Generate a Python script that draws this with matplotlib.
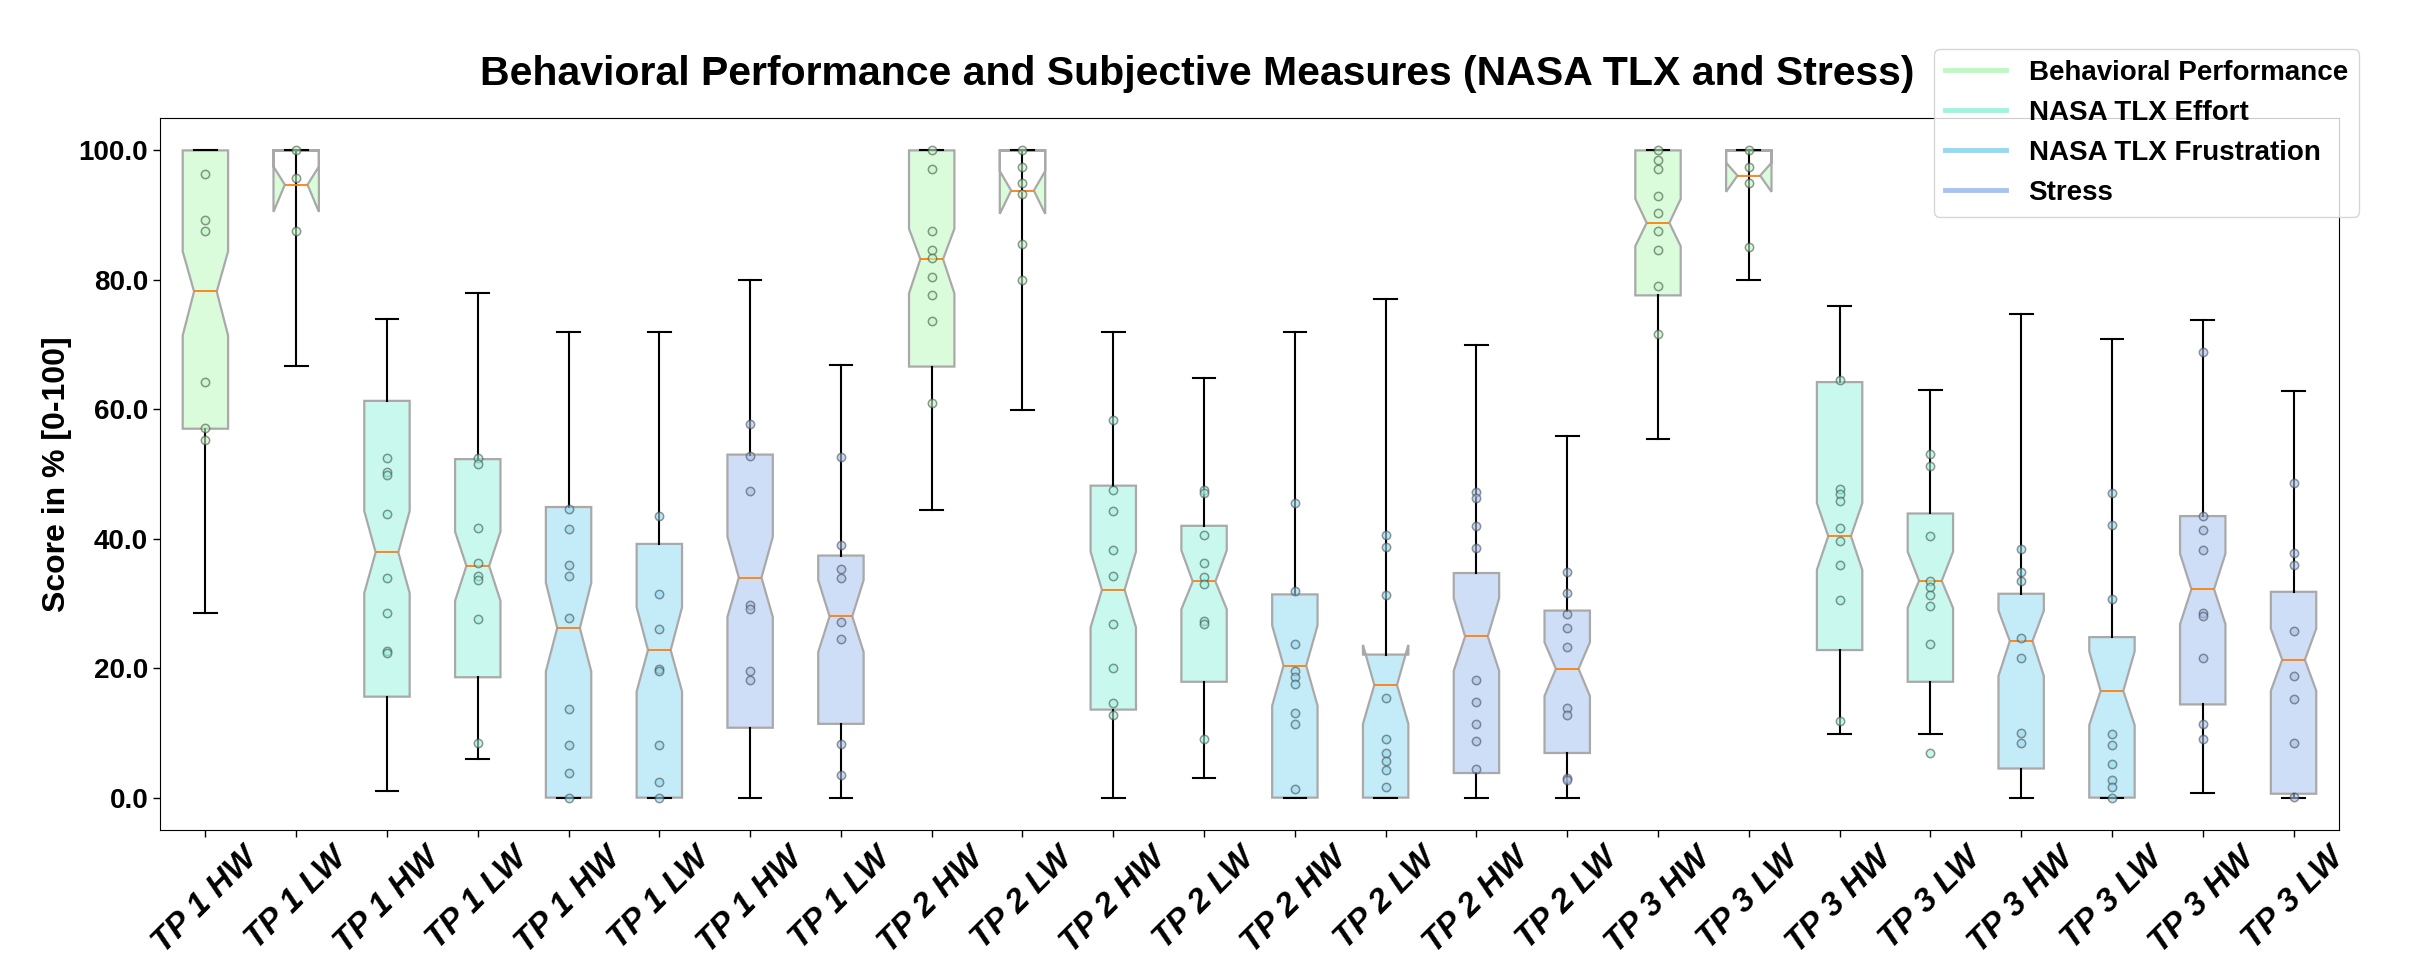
import numpy as np
import matplotlib
matplotlib.use('Agg')
import matplotlib.pyplot as plt
from matplotlib.lines import Line2D
from matplotlib.ticker import FormatStrFormatter

plt.rcParams['font.family'] = ['Liberation Sans', 'DejaVu Sans']

# labels of the 24 boxes (4 measures x 3 time points x HW/LW)
labels = (["TP 1 HW", "TP 1 LW"] * 4 + ["TP 2 HW", "TP 2 LW"] * 4
          + ["TP 3 HW", "TP 3 LW"] * 4)
measure = [0, 0, 1, 1, 2, 2, 3, 3] * 3

measure_names = ["Behavioral Performance", "NASA TLX Effort",
                 "NASA TLX Frustration", "Stress"]
measure_colors = ['#bcfabf', '#9df5e0', '#93dbf3', '#a7c3f0']

# box statistics
q1 = [57.0, 100, 15.6, 18.6, 0, 0, 10.8, 11.4,
      66.6, 100, 13.6, 17.9, 0, 0, 3.8, 6.9,
      77.6, 100, 22.8, 17.9, 4.5, 0, 14.4, 0.6]
med = [78.2, 94.7, 37.9, 35.8, 26.2, 22.8, 34.0, 28.0,
       83.2, 93.8, 32.1, 33.4, 20.4, 17.4, 24.9, 19.9,
       88.8, 96.1, 40.4, 33.5, 24.2, 16.5, 32.2, 21.3]
q3 = [100, 100, 61.3, 52.3, 44.9, 39.2, 53.0, 37.4,
      100, 100, 48.2, 42.0, 31.4, 22.1, 34.7, 28.9,
      100, 100, 64.2, 43.9, 31.5, 24.8, 43.5, 31.8]
notch_lo = [71.4, 90.5, 31.6, 30.4, 19.5, 16.4, 27.9, 22.5,
            77.9, 90.2, 26.3, 29.1, 14.2, 11.4, 19.6, 15.7,
            85.2, 93.6, 35.2, 29.3, 18.8, 11.2, 26.8, 16.5]
notch_hi = [84.4, 97.5, 44.3, 41.1, 33.2, 29.4, 40.3, 33.6,
            87.9, 96.8, 38.0, 38.2, 26.6, 23.6, 30.8, 24.0,
            92.5, 98.1, 45.5, 38.0, 28.9, 22.6, 37.7, 26.1]
whis_lo = [28.5, 66.7, 1.0, 5.9, 0, 0, 0, 0,
           44.4, 59.9, 0, 3.0, 0, 0, 0, 0,
           55.4, 79.9, 9.9, 9.9, 0, 0, 0.7, 0]
whis_hi = [100, 100, 73.9, 77.9, 72.0, 72.0, 79.9, 66.9,
           100, 100, 72.0, 64.9, 72.0, 77.0, 70.0, 55.9,
           100, 100, 75.9, 63.0, 74.8, 70.8, 73.8, 62.8]

# individual scores shown as dots
points = [
    [96.4, 89.2, 87.5, 64.2, 57.1, 55.3],
    [100, 95.7, 87.5],
    [52.5, 50.3, 49.8, 43.8, 33.9, 28.6, 22.7, 22.3],
    [52.5, 51.5, 41.7, 36.3, 34.2, 33.7, 27.6, 8.4],
    [44.6, 41.5, 35.9, 34.3, 27.7, 13.7, 8.2, 3.8, 0],
    [43.5, 31.4, 26.1, 19.9, 19.5, 8.2, 2.4, 0],
    [57.7, 52.8, 47.4, 29.7, 29.1, 19.6, 18.2],
    [52.7, 39.0, 35.4, 33.9, 27.2, 24.5, 8.3, 3.5],
    [100, 97.2, 87.5, 84.6, 83.3, 80.5, 77.7, 73.6, 61.0],
    [100, 97.4, 95.0, 93.3, 85.6, 79.9],
    [58.3, 47.5, 44.3, 38.2, 34.2, 26.9, 20.1, 14.6, 12.7],
    [47.6, 47.1, 40.6, 36.3, 34.1, 33.0, 27.3, 26.8, 9.1],
    [45.5, 32.0, 23.8, 19.6, 18.7, 17.6, 13.1, 11.4, 1.3],
    [40.6, 38.7, 31.3, 15.4, 9.1, 6.9, 5.7, 4.2, 1.7],
    [47.2, 46.3, 42.0, 38.5, 18.2, 14.8, 11.4, 8.7, 4.4],
    [34.8, 31.6, 28.3, 26.2, 23.2, 13.9, 12.7, 3.1, 2.8],
    [100, 98.5, 97.2, 93.0, 90.4, 87.5, 84.6, 79.1, 71.6],
    [100, 97.4, 95.0, 85.0],
    [64.6, 47.7, 46.9, 45.9, 41.6, 39.7, 35.9, 30.6, 11.8],
    [53.1, 51.3, 40.4, 33.4, 32.5, 31.3, 29.6, 23.8, 6.9],
    [38.4, 34.9, 33.5, 24.6, 21.6, 10.0, 8.4],
    [47.1, 42.1, 30.7, 9.9, 8.1, 5.2, 2.7, 1.7, 0],
    [68.9, 43.5, 41.4, 38.3, 28.6, 28.1, 21.5, 11.4, 9.1],
    [48.6, 37.8, 36.0, 25.8, 18.8, 15.2, 8.5, 0.1],
]

stats = []
for i in range(len(labels)):
    stats.append({'label': labels[i], 'q1': q1[i], 'med': med[i], 'q3': q3[i],
                  'cilo': notch_lo[i], 'cihi': notch_hi[i],
                  'whislo': whis_lo[i], 'whishi': whis_hi[i], 'fliers': []})

fig = plt.figure(figsize=(24.17, 9.55), dpi=100)
ax = fig.add_axes([0.0662, 0.1309, 0.9015, 0.7455])

pos = np.arange(1, len(labels) + 1)
bp = ax.bxp(stats, positions=pos, widths=0.5, shownotches=True,
            patch_artist=True, showfliers=False,
            boxprops=dict(edgecolor='#a9a9a9', linewidth=1.6),
            whiskerprops=dict(color='black', linewidth=1.5),
            capprops=dict(color='black', linewidth=1.5),
            medianprops=dict(color='#ff7f0e', linewidth=1.3))

for i, box in enumerate(bp['boxes']):
    fc = matplotlib.colors.to_rgba(measure_colors[measure[i]], 0.55)
    box.set_facecolor(fc)

for i in range(len(labels)):
    ax.scatter([pos[i]] * len(points[i]), points[i], s=36,
               color=measure_colors[measure[i]], edgecolors='#505050',
               linewidths=1.1, alpha=0.6, zorder=3)

ax.set_xlim(0.5, 24.5)
ax.set_ylim(-5, 105)
ax.set_yticks([0, 20, 40, 60, 80, 100])
ax.yaxis.set_major_formatter(FormatStrFormatter('%.1f'))
ax.set_xticks(pos)
ax.set_xticklabels(labels, rotation=45, fontsize=24, fontweight='bold',
                   fontstyle='italic')
for t in ax.get_yticklabels():
    t.set_fontsize(20)
    t.set_fontweight('bold')
ax.tick_params(length=5, width=1.0)
ax.set_ylabel('Score in % [0-100]', fontsize=23, fontweight='bold', labelpad=5)

fig.text(0.4955, 0.911, 'Behavioral Performance and Subjective Measures (NASA TLX and Stress)',
         ha='center', va='baseline', fontsize=29.5, fontweight='bold')

handles = [Line2D([0], [0], color=c, lw=3.5) for c in measure_colors]
fig.legend(handles, measure_names, loc='upper right',
           bbox_to_anchor=(0.976, 0.9487), bbox_transform=fig.transFigure,
           borderaxespad=0, labelspacing=0.5, handlelength=2.2,
           prop=dict(size=20, weight='bold'))

fig.savefig('out.png', dpi=100)
